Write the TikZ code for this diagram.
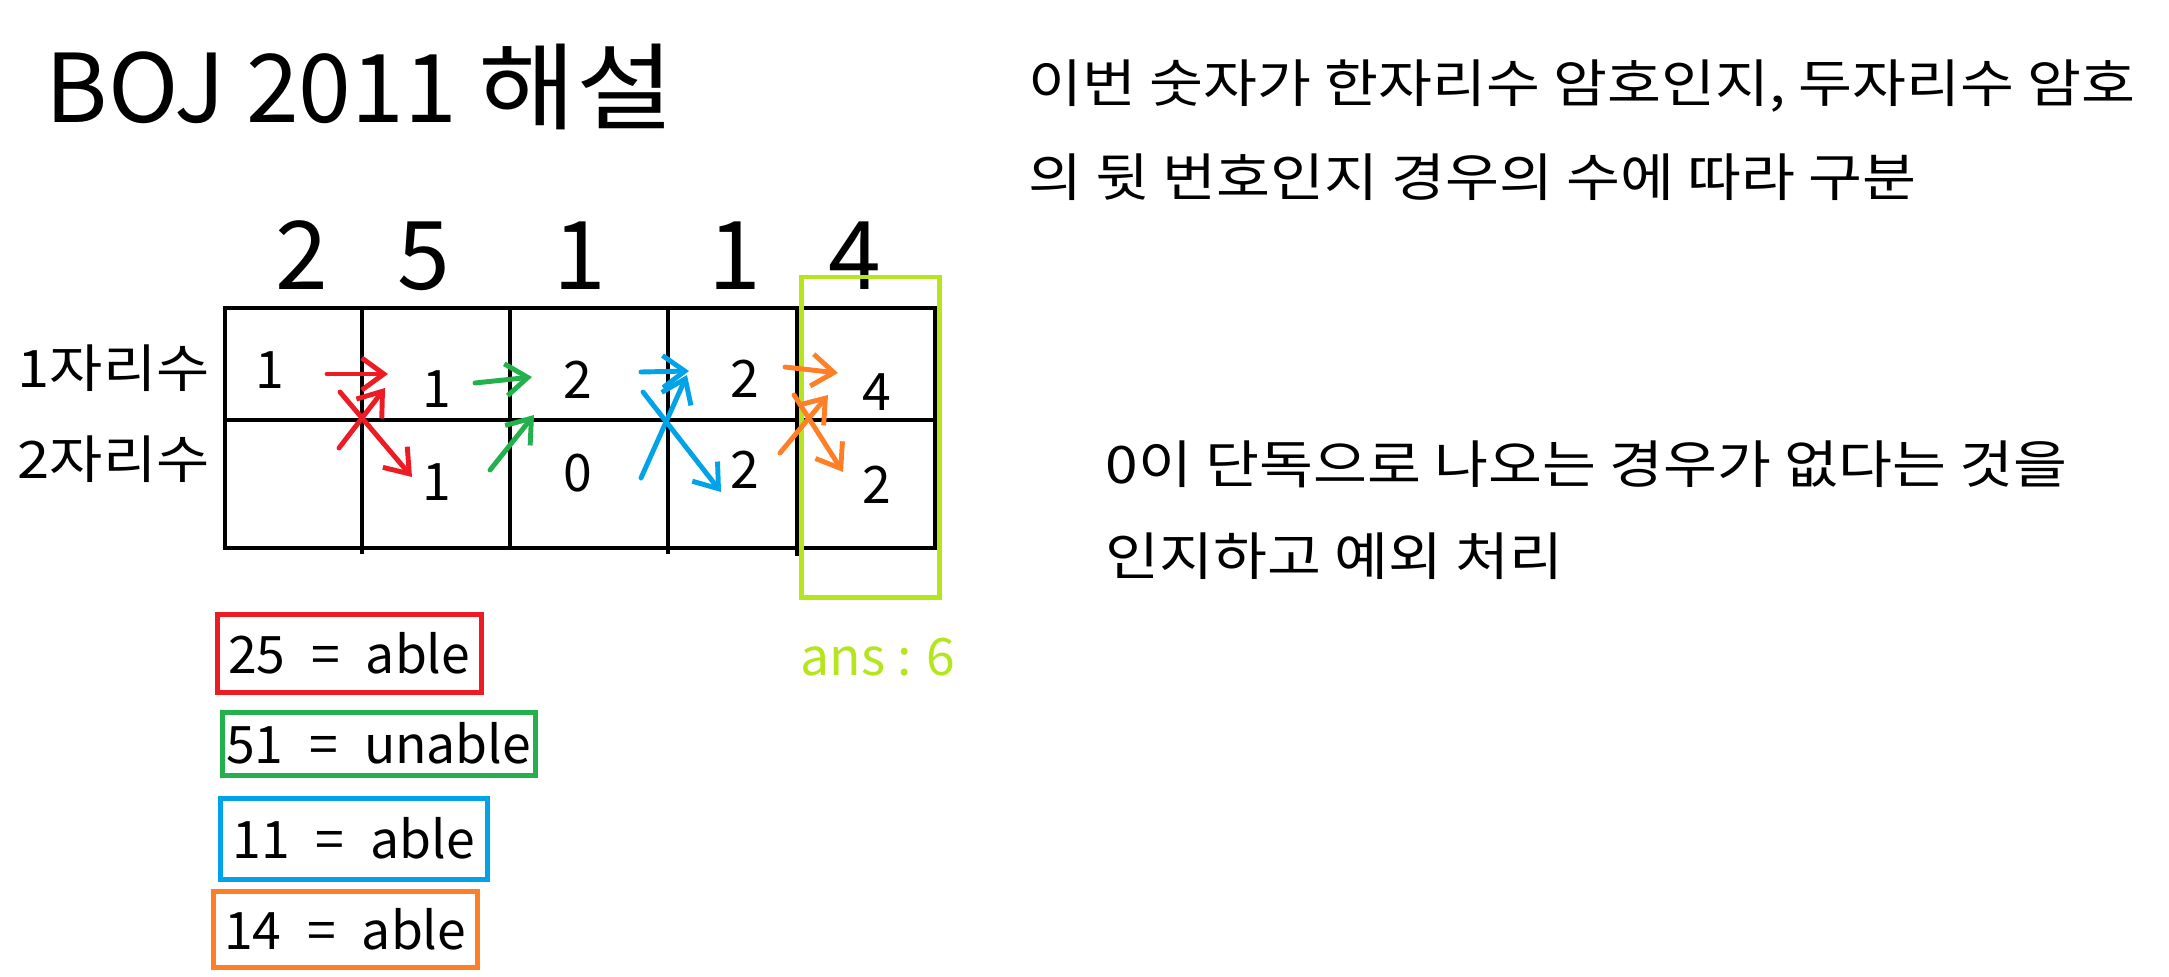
\documentclass[tikz,border=0pt]{standalone}
\usepackage{fontspec}
\setmainfont{Noto Sans CJK KR}
\newfontfamily\krfont[FakeStretch=1.12]{Noto Sans CJK KR}
\newfontfamily\krwide[FakeStretch=1.135]{Noto Sans CJK KR}
\usetikzlibrary{arrows.meta}
\definecolor{pred}{HTML}{ED1C24}
\definecolor{pgreen}{HTML}{22B14C}
\definecolor{pblue}{HTML}{00A2E8}
\definecolor{porange}{HTML}{FF7F27}
\definecolor{plime}{HTML}{B5E61D}

\begin{document}
\begin{tikzpicture}[
  every node/.style={inner sep=0pt},
  small/.style={font=\fontsize{14.7}{17}\selectfont},
  smallkr/.style={font=\fontsize{14.7}{17}\selectfont\krfont},
  note/.style={font=\fontsize{14.7}{17}\selectfont\krwide, anchor=base west},
  big/.style={font=\fontsize{27}{32}\selectfont},
  cellline/.style={draw, line width=1.28pt},
  legbox/.style={draw, line width=1.28pt, anchor=north west, small},
  ink/.style={line width=1.4pt, line cap=round, line join=round, -{Straight Barb[length=2.2mm,width=3.2mm]}}
]
\useasboundingbox (0,0) rectangle (21.69,-9.76);

% Title
\node[big, anchor=base west] (title) at (0.45,-1.23) {BOJ 2011 {\krfont 해설}};

% Digits of the code
\node[big, anchor=base] (d1) at (3.02,-2.89) {2};
\node[big, anchor=base] (d2) at (4.24,-2.89) {5};
\node[big, anchor=base] (d3) at (5.80,-2.89) {1};
\node[big, anchor=base] (d4) at (7.35,-2.89) {1};
\node[big, anchor=base] (d5) at (8.55,-2.89) {4};

% Row labels
\node[smallkr, anchor=base west] (row1) at (0.17,-3.87) {1자리수};
\node[smallkr, anchor=base west] (row2) at (0.17,-4.78) {2자리수};

% Table
\draw[cellline] (2.25,-3.08) rectangle (9.35,-5.48);
\draw[cellline] (2.25,-4.20) -- (9.35,-4.20);
\draw[cellline] (3.62,-3.06) -- (3.62,-5.54);
\draw[cellline] (5.10,-3.06) -- (5.10,-5.48);
\draw[cellline] (6.68,-3.08) -- (6.68,-5.54);
\draw[cellline] (7.97,-3.08) -- (7.97,-5.56);

% Counts, one digit
\node[small, anchor=base] (c11) at (2.70,-3.88) {1};
\node[small, anchor=base] (c12) at (4.37,-4.07) {1};
\node[small, anchor=base] (c13) at (5.78,-3.98) {2};
\node[small, anchor=base] (c14) at (7.45,-3.97) {2};
\node[small, anchor=base] (c15) at (8.77,-4.10) {4};

% Counts, two digits
\node[small, anchor=base] (c22) at (4.37,-5.00) {1};
\node[small, anchor=base] (c23) at (5.78,-4.91) {0};
\node[small, anchor=base] (c24) at (7.45,-4.88) {2};
\node[small, anchor=base] (c25) at (8.77,-5.03) {2};

% Answer column
\draw[plime, line width=1.42pt] (8.01,-2.77) rectangle (9.39,-5.97);
\node[small, plime, anchor=base west] (ans) at (8.00,-6.75) {ans : 6};

% Arrow ends
\coordinate (r1s) at (3.27,-3.74); \coordinate (r1e) at (3.88,-3.74);
\coordinate (r2s) at (3.40,-3.92); \coordinate (r2e) at (4.12,-4.77);
\coordinate (r3s) at (3.39,-4.48); \coordinate (r3e) at (3.85,-3.88);
\coordinate (g1s) at (4.75,-3.83); \coordinate (g1e) at (5.32,-3.77);
\coordinate (g2s) at (4.90,-4.70); \coordinate (g2e) at (5.34,-4.15);
\coordinate (b1s) at (6.41,-3.72); \coordinate (b1e) at (6.89,-3.71);
\coordinate (b2s) at (6.43,-3.92); \coordinate (b2e) at (7.21,-4.92);
\coordinate (b3s) at (6.41,-4.78); \coordinate (b3e) at (6.87,-3.75);
\coordinate (o1s) at (7.85,-3.67); \coordinate (o1e) at (8.38,-3.73);
\coordinate (o2s) at (7.94,-3.95); \coordinate (o2e) at (8.43,-4.72);
\coordinate (o3s) at (7.80,-4.53); \coordinate (o3e) at (8.28,-3.95);

% Arrows
\draw[ink, pred] (r1s) -- (r1e);
\draw[ink, pred] (r2s) -- (r2e);
\draw[ink, pred] (r3s) -- (r3e);
\draw[ink, pgreen] (g1s) -- (g1e);
\draw[ink, pgreen] (g2s) -- (g2e);
\draw[ink, pblue] (b1s) -- (b1e);
\draw[ink, pblue] (b2s) -- (b2e);
\draw[ink, pblue] (b3s) -- (b3e);
\draw[ink, porange] (o1s) -- (o1e);
\draw[ink, porange] (o2s) -- (o2e);
\draw[ink, porange] (o3s) -- (o3e);

% Pairs
\node[legbox, draw=pred, minimum width=2.64cm, minimum height=0.78cm] (leg25) at (2.15,-6.12) {25\enspace=\enspace able};
\node[legbox, draw=pgreen, minimum width=3.13cm, minimum height=0.63cm] (leg51) at (2.20,-7.10) {51\enspace=\enspace unable};
\node[legbox, draw=pblue, minimum width=2.67cm, minimum height=0.81cm] (leg11) at (2.18,-7.96) {11\enspace=\enspace able};
\node[legbox, draw=porange, minimum width=2.64cm, minimum height=0.76cm] (leg14) at (2.11,-8.89) {14\enspace=\enspace able};

% Notes
\node[note] (note1a) at (10.28,-1.03) {이번 숫자가 한자리수 암호인지, 두자리수 암호};
\node[note] (note1b) at (10.28,-1.97) {의 뒷 번호인지 경우의 수에 따라 구분};
\node[note] (note2a) at (11.05,-4.83) {0이 단독으로 나오는 경우가 없다는 것을};
\node[note] (note2b) at (11.05,-5.75) {인지하고 예외 처리};

\end{tikzpicture}
\end{document}
